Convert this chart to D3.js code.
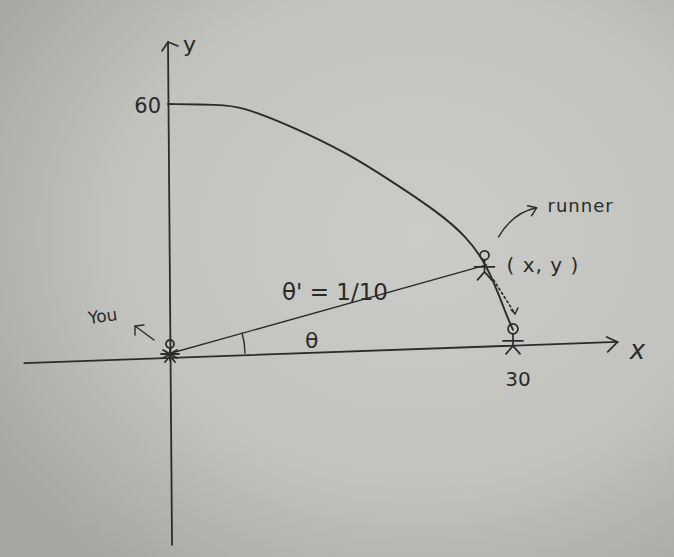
<!DOCTYPE html>
<html>
<head>
<meta charset="utf-8">
<script src="https://cdn.jsdelivr.net/npm/d3@7"></script>
<style>
  body { margin: 0; background: #c2c2bf; }
  svg { display: block; }
  text { font-family: "DejaVu Sans", sans-serif; fill: #2a2a2a; }
</style>
</head>
<body>
<svg id="sketch"></svg>
<script>
// quarter-ellipse track the runner follows (x, y in metres)
const trackX = [0, 4.5, 6.3, 10.9, 15.6, 19.6, 23.4, 26.0, 27.6, 28.6, 29.5, 30]
const trackY = [60, 59.8, 59.5, 54.5, 48.2, 41.2, 34.2, 28.1, 21.8, 15.4, 8.9, 5.8]

// axis tick labels
const xTicks = [30]
const yTicks = [60]

// where the people stand
const you = [0, 0]
const runner = [27.7, 21.4]
const runnerEnd = [30, 5.8]

// axis line ends (the pencil lines lean a little)
const xAxisEnds = [[-12.5, -2.2], [39.1, 2.9]]
const yAxisEnds = [[0, 74.9], [0.35, -45.8]]

const labels = {
  x: 'x', y: 'y', you: 'You', runner: 'runner', point: '( x, y )',
  rate: "θ' = 1/10", angle: 'θ'
}

const W = 674, H = 557
const INK = '#2b2b2b'

const svg = d3.select('#sketch').attr('width', W).attr('height', H)

/**
 * @Paper
 */
const defs = svg.append('defs')
const grad = defs.append('radialGradient')
  .attr('id', 'paper')
  .attr('cx', 0.62).attr('cy', 0.42).attr('r', 0.75)
grad.append('stop').attr('offset', '0%').attr('stop-color', '#cbcbc8')
grad.append('stop').attr('offset', '60%').attr('stop-color', '#c2c2bf')
grad.append('stop').attr('offset', '100%').attr('stop-color', '#a6a6a2')
svg.append('rect').attr('width', W).attr('height', H).attr('fill', 'url(#paper)')

/**
 * @Scales
 */
const x = d3.scaleLinear().domain([0, 30]).range([168, 513])
const y = d3.scaleLinear().domain([0, 60]).range([354, 104])

const g = svg.append('g')
  .attr('fill', 'none')
  .attr('stroke', INK)
  .attr('stroke-linecap', 'round')
  .attr('stroke-linejoin', 'round')

const line = d3.line().x(d => x(d[0])).y(d => y(d[1]))

/**
 * @Axes
 */
g.append('path').attr('d', line(xAxisEnds)).attr('stroke-width', 1.8)
g.append('path').attr('d', line(yAxisEnds)).attr('stroke-width', 1.8)

// arrow heads drawn in pixels around the axis tips
const xTip = [x(xAxisEnds[1][0]), y(xAxisEnds[1][1])]
g.append('path')
  .attr('d', `M${xTip[0] - 11},${xTip[1] - 5} L${xTip[0]},${xTip[1]} L${xTip[0] - 10},${xTip[1] + 10}`)
  .attr('stroke-width', 1.7)
const yTip = [x(yAxisEnds[0][0]), y(yAxisEnds[0][1])]
g.append('path')
  .attr('d', `M${yTip[0] - 6},${yTip[1] + 9} L${yTip[0]},${yTip[1]} L${yTip[0] + 10},${yTip[1] + 4}`)
  .attr('stroke-width', 1.7)

svg.selectAll('.ytick').data(yTicks).enter().append('text')
  .attr('x', x(0) - 7).attr('y', d => y(d) + 9)
  .attr('text-anchor', 'end')
  .style('font-size', '21px')
  .text(d => d)

svg.selectAll('.xtick').data(xTicks).enter().append('text')
  .attr('x', d => x(d) + 5).attr('y', y(0) + 32)
  .attr('text-anchor', 'middle')
  .style('font-size', '20px')
  .text(d => d)

svg.append('text').attr('x', yTip[0] + 15).attr('y', yTip[1] + 10)
  .style('font-size', '22px').text(labels.y)
svg.append('text').attr('x', xTip[0] + 12).attr('y', xTip[1] + 17)
  .style('font-size', '26px').style('font-style', 'italic').text(labels.x)

/**
 * @Track
 */
const track = trackX.map((d, i) => [d, trackY[i]])
g.append('path')
  .attr('d', d3.line().x(d => x(d[0])).y(d => y(d[1])).curve(d3.curveBasis)(track))
  .attr('stroke-width', 1.9)

// sight line from you to the runner
g.append('path').attr('d', line([you, runner])).attr('stroke-width', 1.4)

// angle arc
const ox = x(you[0]), oy = y(you[1])
const rx = x(runner[0]), ry = y(runner[1])
const ang = Math.atan2(oy - ry, rx - ox)
const arcR = 77
g.append('path')
  .attr('d', `M${ox + arcR * Math.cos(ang)},${oy - arcR * Math.sin(ang)} A${arcR},${arcR} 0 0 1 ${ox + arcR},${oy - 1}`)
  .attr('stroke-width', 1.4)

/**
 * @People
 */
function stickFigure(px, py, headR) {
  const f = g.append('g').attr('transform', `translate(${px},${py})`).attr('stroke-width', 1.7)
  f.append('circle').attr('cx', 0).attr('cy', -headR - 6).attr('r', headR)
  f.append('path').attr('d', `M0,-6 L0,6 M-10,1 L10,1 M0,6 L-7,14 M0,6 L7,14`)
  return f
}

// you, at the origin (squashed star)
const youFig = g.append('g').attr('transform', `translate(${ox + 2},${oy})`).attr('stroke-width', 1.8)
youFig.append('circle').attr('cx', 0).attr('cy', -10).attr('r', 4)
youFig.append('path').attr('d', 'M-7,-4 L7,4 M-7,4 L7,-4 M0,-5 L0,6 M-5,8 L0,2 L5,8 M-9,0 L9,0')

stickFigure(rx - 2, ry + 1, 4.5)
stickFigure(x(runnerEnd[0]), y(runnerEnd[1]) + 10, 5)

// dotted arrow from runner down to the axis
const d0 = [rx + 7, ry + 15]
const d1 = [x(runnerEnd[0]) + 2, y(runnerEnd[1]) - 16]
g.append('path').attr('d', `M${d0[0]},${d0[1]} L${d1[0]},${d1[1]}`)
  .attr('stroke-width', 1.6).attr('stroke-dasharray', '2,3')
g.append('path').attr('d', `M${d1[0] - 4},${d1[1] - 4} L${d1[0]},${d1[1]} L${d1[0] + 3},${d1[1] - 6}`)
  .attr('stroke-width', 1.4)

// pointer arrows
g.append('path').attr('d', `M${rx + 12},${ry - 28} Q${rx + 26},${ry - 52} ${rx + 50},${ry - 57}`)
  .attr('stroke-width', 1.5)
g.append('path').attr('d', `M${rx + 41},${ry - 59} L${rx + 50},${ry - 57} L${rx + 45},${ry - 49}`)
  .attr('stroke-width', 1.5)

g.append('path').attr('d', `M${ox - 14},${oy - 14} L${ox - 33},${oy - 28}`).attr('stroke-width', 1.4)
g.append('path').attr('d', `M${ox - 33},${oy - 19} L${ox - 33},${oy - 28} L${ox - 24},${oy - 29}`).attr('stroke-width', 1.4)

/**
 * @Labels
 */
svg.append('text').attr('x', rx + 61).attr('y', ry - 53)
  .style('font-size', '18px').style('letter-spacing', '1px').text(labels.runner)
svg.append('text').attr('x', rx + 20).attr('y', ry + 7)
  .style('font-size', '20px').style('letter-spacing', '1px').text(labels.point)
svg.append('text').attr('x', 282).attr('y', 300)
  .style('font-size', '23px').text(labels.rate)
svg.append('text').attr('x', 305).attr('y', 348)
  .style('font-size', '22px').text(labels.angle)
svg.append('text').attr('x', 0).attr('y', 0)
  .attr('transform', `translate(${ox - 79},${oy - 30}) rotate(-8)`)
  .style('font-size', '17px').text(labels.you)
</script>
</body>
</html>
